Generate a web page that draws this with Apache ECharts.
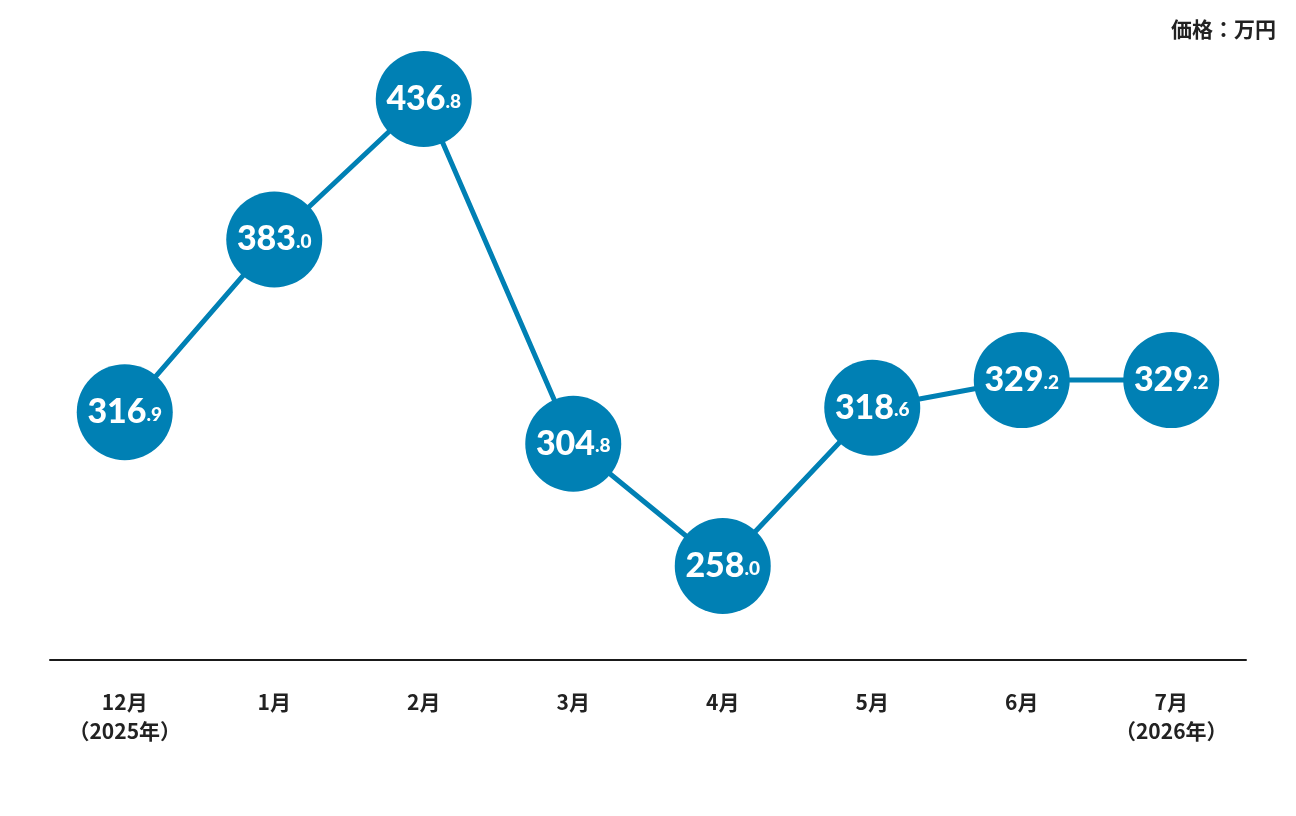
<!DOCTYPE html>
<html>
<head>
<meta charset="utf-8">
<script src="https://cdn.jsdelivr.net/npm/echarts@6/dist/echarts.min.js"></script>
<style>
  html, body { margin: 0; padding: 0; background: #fff; }
  #chart { width: 1296px; height: 816px; }
</style>
</head>
<body>
<div id="chart"></div>
<script>
// 月ラベル
const categories = ["12月\n（2025年）", "1月", "2月", "3月", "4月", "5月", "6月", "7月\n（2026年）"];
// 価格（万円）
const prices = [316.9, 383.0, 436.8, 304.8, 258.0, 318.6, 329.2, 329.2];
const unitLabel = "価格：万円";

const chart = echarts.init(document.getElementById("chart"));

chart.setOption({
  animation: false,
  graphic: [
    {
      type: "text",
      right: 20,
      top: 19,
      style: {
        text: unitLabel,
        font: "bold 21px 'Noto Sans CJK JP'",
        fill: "#222"
      }
    }
  ],
  grid: { left: 50, right: 50, top: 40, bottom: 156 },
  xAxis: {
    type: "category",
    data: categories,
    boundaryGap: true,
    axisLine: { lineStyle: { color: "#1a1a1a", width: 2 } },
    axisTick: { show: false },
    axisLabel: {
      margin: 28,
      color: "#222",
      fontSize: 21,
      fontWeight: "bold",
      fontFamily: "Noto Sans CJK JP",
      lineHeight: 29
    }
  },
  yAxis: {
    type: "value",
    min: 222,
    max: 459.4,
    show: false,
    splitLine: { show: false }
  },
  series: [
    {
      type: "line",
      data: prices,
      symbol: "circle",
      symbolSize: 96,
      lineStyle: { color: "#0080b4", width: 5 },
      itemStyle: { color: "#0080b4" },
      label: {
        show: true,
        position: "inside",
        formatter: (p) => {
          const [intPart, decPart] = p.value.toFixed(1).split(".");
          return "{a|" + intPart + "}{b|." + decPart + "}";
        },
        rich: {
          a: { color: "#fff", fontSize: 34, fontWeight: 900, fontFamily: "Lato" },
          b: { color: "#fff", fontSize: 19, fontWeight: 900, fontFamily: "Lato", padding: [5, 0, 0, 0] }
        }
      }
    }
  ]
});
</script>
</body>
</html>
